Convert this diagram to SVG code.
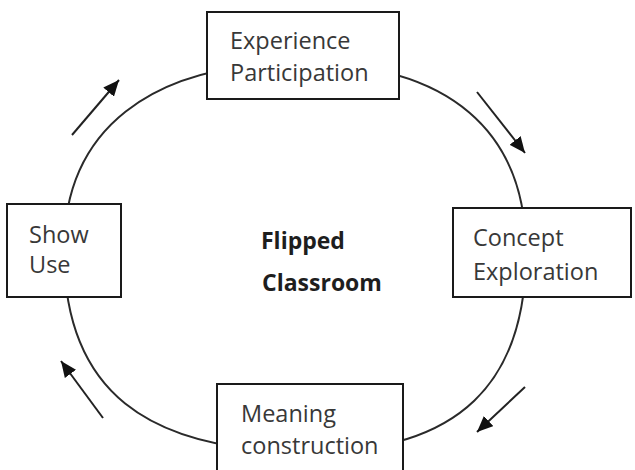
<svg xmlns="http://www.w3.org/2000/svg" width="635" height="470" viewBox="0 0 635 470">
<style>
.box{fill:#fff;stroke:#1a1a1a;stroke-width:2}
.t{font-family:"Open Sans","Liberation Sans",sans-serif;font-size:23.5px;fill:#383838}
.tb{font-family:"Open Sans","Liberation Sans",sans-serif;font-size:23px;font-weight:bold;fill:#1e1e1e}
.cyc{fill:none;stroke:#2a2a2a;stroke-width:2}
.arr{fill:none;stroke:#222;stroke-width:2;marker-end:url(#ah)}
</style>
<defs>
<marker id="ah" markerUnits="userSpaceOnUse" markerWidth="18" markerHeight="14" refX="16" refY="7" orient="auto">
<path d="M0,0 L16,7 L0,14 Z" fill="#111"/>
</marker>
</defs>
<rect width="635" height="470" fill="#fff"/>
<g id="connectors">
<path class="cyc" d="M300,63 C150,63 64,130 64,250 C64,390 145,452 310,452 C460,452 526,382 526,252 C526,132 450,63 300,63 Z"/>
<line class="arr" x1="72" y1="135" x2="119" y2="80"/>
<line class="arr" x1="477" y1="92" x2="525" y2="153"/>
<line class="arr" x1="525" y1="387" x2="477" y2="432"/>
<line class="arr" x1="103" y1="418" x2="61" y2="361"/>
</g>
<g id="experience">
<rect class="box" x="207" y="12" width="192" height="87"/>
<text class="t" x="230" y="49">Experience</text>
<text class="t" x="230" y="81">Participation</text>
</g>
<g id="concept">
<rect class="box" x="453" y="208" width="178" height="89"/>
<text class="t" x="473" y="246">Concept</text>
<text class="t" x="473" y="280">Exploration</text>
</g>
<g id="meaning">
<rect class="box" x="217" y="384" width="186" height="90"/>
<text class="t" x="241" y="422">Meaning</text>
<text class="t" x="241" y="454">construction</text>
</g>
<g id="show">
<rect class="box" x="7" y="204" width="114" height="93"/>
<text class="t" x="29" y="243">Show</text>
<text class="t" x="29" y="273">Use</text>
</g>
<g id="center">
<text class="tb" x="261" y="249">Flipped</text>
<text class="tb" x="262" y="291">Classroom</text>
</g>
</svg>
